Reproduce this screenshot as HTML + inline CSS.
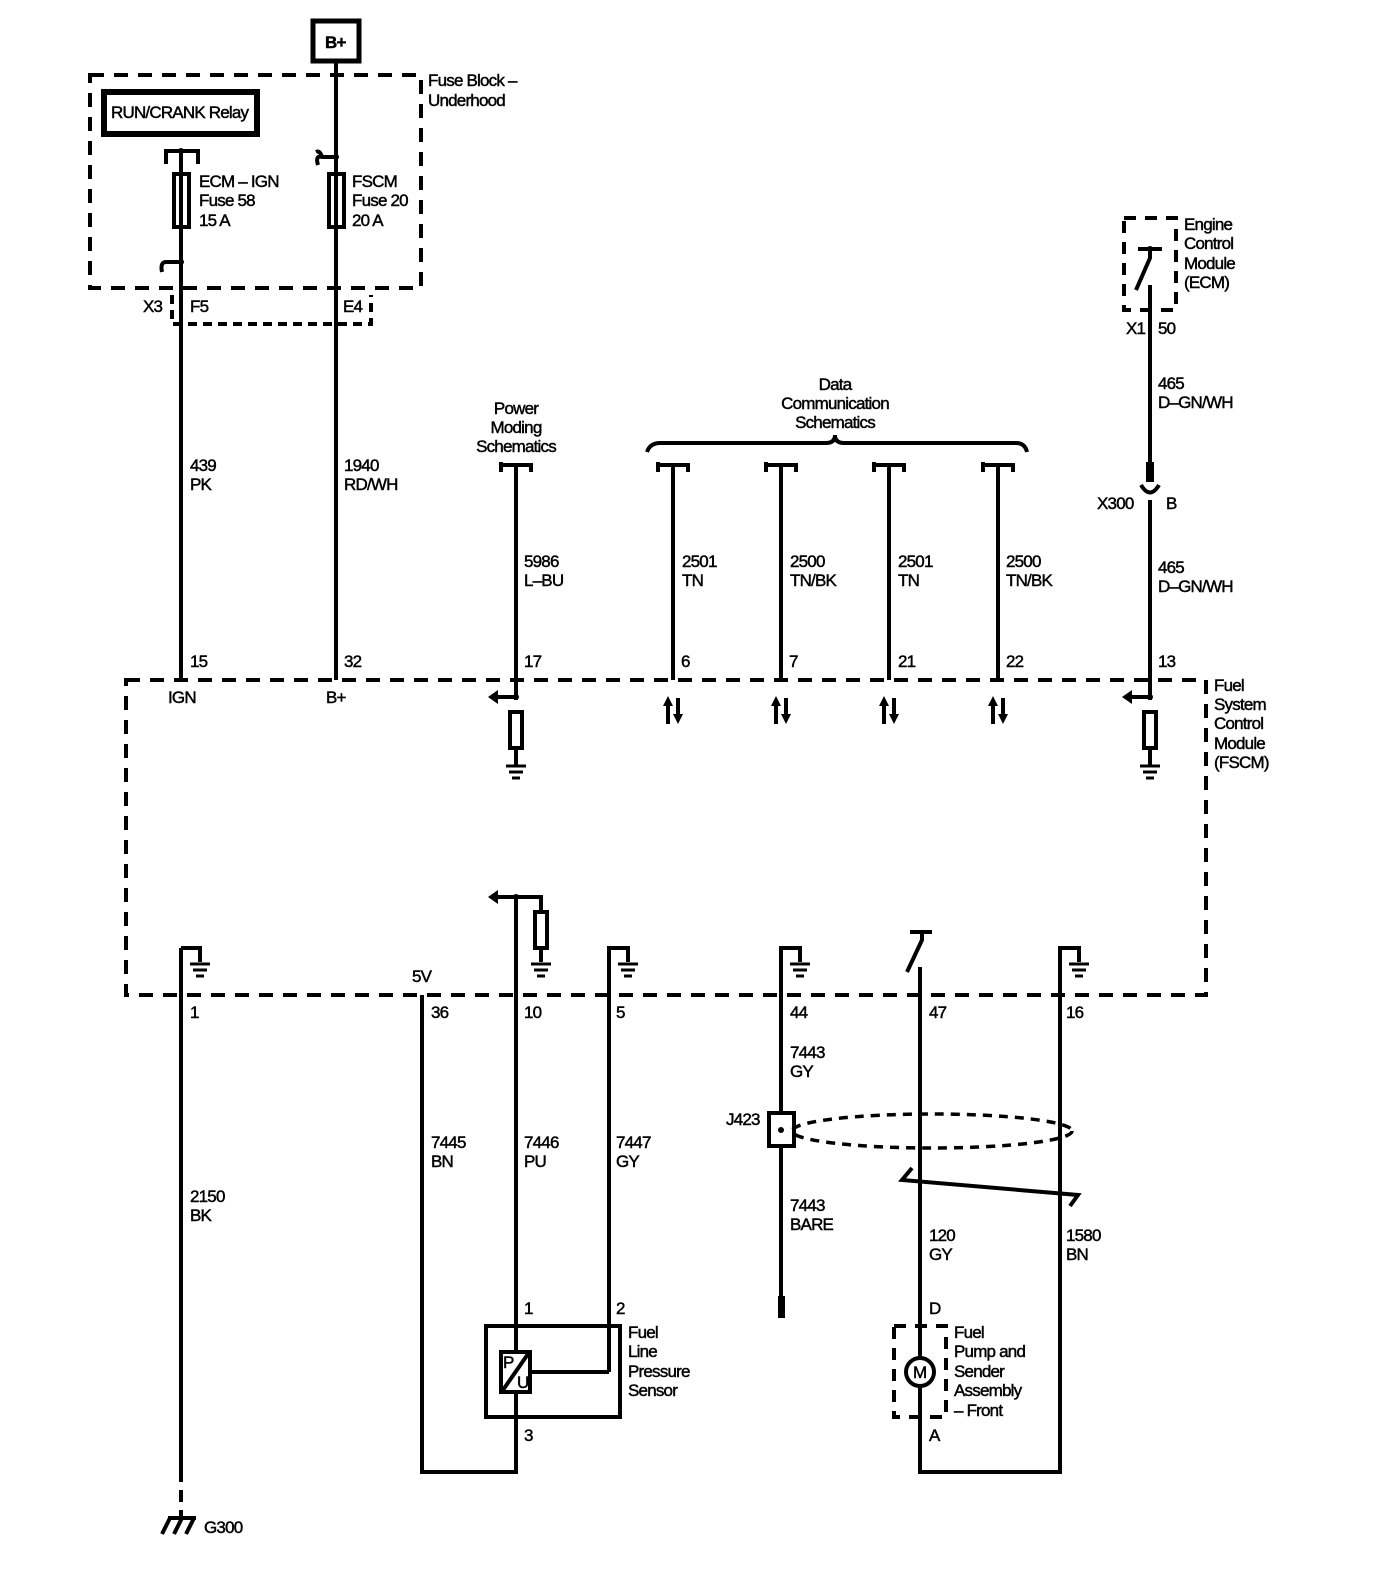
<!DOCTYPE html>
<html><head><style>
html,body{margin:0;padding:0;background:#fff;overflow:hidden;width:1392px;height:1584px;}
svg{display:block;}
svg text{font-family:"Liberation Sans",sans-serif;font-size:17px;fill:#000;stroke:#000;stroke-width:0.45px;letter-spacing:-0.8px;}
</style></head><body>
<svg width="1392" height="1584" viewBox="0 0 1392 1584" xmlns="http://www.w3.org/2000/svg">
<g fill="none" stroke="#000" stroke-width="4">
<rect x="313" y="21" width="46" height="40" stroke-width="5"/>
<rect x="90" y="75" width="331" height="213" stroke-dasharray="14,10"/>
<rect x="104" y="92" width="153" height="42" stroke-width="6"/>
<path d="M172 295 V324 H371 V295" stroke-dasharray="9,6"/>
<path d="M181 152 V680"/>
<path d="M181 948 V1470"/>
<path d="M181 1470 V1520" stroke-dasharray="12,8"/>
<path d="M336 63 V680"/>
<path d="M166 164 V151 H198 V164"/>
<rect x="174" y="174" width="15" height="53"/>
<rect x="329" y="174" width="15" height="53"/>
<path d="M181 262 H166 Q160 262 162 272"/>
<path d="M336 157 H322 Q315 155 318 165"/>
<path d="M316 152 Q320 150 322 157"/>
<rect x="126" y="680" width="1080" height="315" stroke-dasharray="14,10"/>
<path d="M501 472 V462 M501 465 H531 V472 M516 465 V700"/>
<path d="M647 452 Q650 443 660 443 H826 Q835 443 835 435 Q835 443 844 443 H1016 Q1025 443 1027 452"/>
<path d="M658 472 V462 M658 465 H688 V472 M673 465 V680"/>
<path d="M766 472 V462 M766 465 H796 V472 M781 465 V680"/>
<path d="M874 472 V462 M874 465 H904 V472 M889 465 V680"/>
<path d="M983 472 V462 M983 465 H1013 V472 M998 465 V680"/>
<rect x="1124" y="218" width="52" height="92" stroke-dasharray="12,9"/>
<path d="M1150 285 V465 M1150 500 V700"/>
<path d="M1138 249 H1162 M1150 249 V258 L1136 290"/>
<path d="M1141 485 Q1150 500 1159 485"/>
<path d="M516 697 H496 M1150 697 H1130"/>
<rect x="510" y="712" width="12" height="36"/>
<rect x="1144" y="712" width="12" height="36"/>
<path d="M516 748 V765 M1150 748 V765"/>
<path d="M668 724 V700 M678 698 V720"/>
<path d="M776 724 V700 M786 698 V720"/>
<path d="M884 724 V700 M894 698 V720"/>
<path d="M993 724 V700 M1003 698 V720"/>
<path d="M181 948 H200 V962"/>
<path d="M516 897 V1472 H422 V995"/>
<path d="M516 897 H496 M516 897 H541 V912"/>
<rect x="535" y="912" width="12" height="36"/>
<path d="M541 948 V962"/>
<path d="M609 1372 V948 H628 V962"/>
<path d="M609 1372 H530"/>
<path d="M781 1316 V948 H800 V962"/>
<path d="M920 967 V1472 H1060 V948 H1079 V962"/>
<path d="M907 972 L922 940 V932 M910 932 H932"/>
<rect x="486" y="1326" width="134" height="91"/>
<rect x="501" y="1352" width="29" height="40" fill="#fff"/>
<path d="M503 1390 L528 1354"/>
<rect x="894" y="1326" width="52" height="91" stroke-dasharray="12,9"/>
<circle cx="920" cy="1372" r="14" fill="#fff"/>
<rect x="769" y="1113" width="25" height="33" fill="#fff"/>
<ellipse cx="932" cy="1131" rx="140" ry="17" stroke-dasharray="9,7" stroke-width="3.5"/>
<path d="M912 1168 L902 1180 L1078 1195 L1070 1206"/>
<path d="M162 1534 L170 1518 M174 1534 L182 1518 M186 1534 L194 1518 M168 1518 H196"/>
</g>
<g fill="#000">
<rect x="778" y="1296" width="7" height="22"/>
<rect x="1146" y="462" width="8" height="20"/>
<circle cx="181" cy="151" r="3"/><circle cx="181" cy="262" r="3"/><circle cx="336" cy="157" r="3"/>
<circle cx="516" cy="697" r="3"/><circle cx="1150" cy="697" r="3"/><circle cx="516" cy="897" r="3"/><circle cx="1150" cy="249" r="3"/>
<circle cx="781" cy="1130" r="3"/>
<polygon points="488,697 498,690 498,704"/>
<polygon points="1122,697 1132,690 1132,704"/>
<polygon points="488,897 498,890 498,904"/>
<polygon points="668,696 663,706 673,706"/><polygon points="678,724 673,714 683,714"/>
<polygon points="776,696 771,706 781,706"/><polygon points="786,724 781,714 791,714"/>
<polygon points="884,696 879,706 889,706"/><polygon points="894,724 889,714 899,714"/>
<polygon points="993,696 988,706 998,706"/><polygon points="1003,724 998,714 1008,714"/>
</g>
<g stroke="#000" stroke-width="3">
<path d="M506 766 H526 M509 772 H523 M512 778 H520"/>
<path d="M1140 766 H1160 M1143 772 H1157 M1146 778 H1154"/>
<path d="M190 964 H210 M193 970 H207 M196 976 H204"/>
<path d="M531 964 H551 M534 970 H548 M537 976 H545"/>
<path d="M618 964 H638 M621 970 H635 M624 976 H632"/>
<path d="M790 964 H810 M793 970 H807 M796 976 H804"/>
<path d="M1069 964 H1089 M1072 970 H1086 M1075 976 H1083"/>
</g>
<text x="325" y="48" font-weight="bold">B+</text>
<text x="111" y="118">RUN/CRANK Relay</text>
<text x="428" y="86">Fuse Block –</text>
<text x="428" y="106">Underhood</text>
<text x="199" y="187">ECM – IGN</text><text x="199" y="206">Fuse 58</text><text x="199" y="226">15 A</text>
<text x="352" y="187">FSCM</text><text x="352" y="206">Fuse 20</text><text x="352" y="226">20 A</text>
<text x="143" y="312">X3</text><text x="190" y="312">F5</text><text x="343" y="312">E4</text>
<text x="190" y="471">439</text><text x="190" y="490">PK</text>
<text x="344" y="471">1940</text><text x="344" y="490">RD/WH</text>
<g text-anchor="middle"><text x="516" y="414">Power</text><text x="516" y="433">Moding</text><text x="516" y="452">Schematics</text>
<text x="835" y="390">Data</text><text x="835" y="409">Communication</text><text x="835" y="428">Schematics</text></g>
<text x="1184" y="230">Engine</text><text x="1184" y="249">Control</text><text x="1184" y="269">Module</text><text x="1184" y="288">(ECM)</text>
<text x="1126" y="334">X1</text><text x="1158" y="334">50</text>
<text x="1158" y="389">465</text><text x="1158" y="408">D–GN/WH</text>
<text x="1097" y="509">X300</text><text x="1166" y="509">B</text>
<text x="1158" y="573">465</text><text x="1158" y="592">D–GN/WH</text>
<text x="524" y="567">5986</text><text x="524" y="586">L–BU</text>
<text x="682" y="567">2501</text><text x="682" y="586">TN</text>
<text x="790" y="567">2500</text><text x="790" y="586">TN/BK</text>
<text x="898" y="567">2501</text><text x="898" y="586">TN</text>
<text x="1006" y="567">2500</text><text x="1006" y="586">TN/BK</text>
<text x="190" y="667">15</text><text x="344" y="667">32</text><text x="524" y="667">17</text><text x="681" y="667">6</text>
<text x="789" y="667">7</text><text x="898" y="667">21</text><text x="1006" y="667">22</text><text x="1158" y="667">13</text>
<text x="168" y="703">IGN</text><text x="326" y="703">B+</text>
<text x="1214" y="691">Fuel</text><text x="1214" y="710">System</text><text x="1214" y="729">Control</text><text x="1214" y="749">Module</text><text x="1214" y="768">(FSCM)</text>
<text x="412" y="982">5V</text>
<text x="190" y="1018">1</text><text x="431" y="1018">36</text><text x="524" y="1018">10</text><text x="616" y="1018">5</text>
<text x="790" y="1018">44</text><text x="929" y="1018">47</text><text x="1066" y="1018">16</text>
<text x="790" y="1058">7443</text><text x="790" y="1077">GY</text>
<text x="726" y="1125">J423</text>
<text x="431" y="1148">7445</text><text x="431" y="1167">BN</text>
<text x="524" y="1148">7446</text><text x="524" y="1167">PU</text>
<text x="616" y="1148">7447</text><text x="616" y="1167">GY</text>
<text x="190" y="1202">2150</text><text x="190" y="1221">BK</text>
<text x="790" y="1211">7443</text><text x="790" y="1230">BARE</text>
<text x="929" y="1241">120</text><text x="929" y="1260">GY</text>
<text x="1066" y="1241">1580</text><text x="1066" y="1260">BN</text>
<text x="524" y="1314">1</text><text x="616" y="1314">2</text><text x="929" y="1314">D</text>
<text x="628" y="1338">Fuel</text><text x="628" y="1357">Line</text><text x="628" y="1377">Pressure</text><text x="628" y="1396">Sensor</text>
<text x="954" y="1338">Fuel</text><text x="954" y="1357">Pump and</text><text x="954" y="1377">Sender</text><text x="954" y="1396">Assembly</text><text x="954" y="1416">– Front</text>
<text x="503" y="1368" font-size="15">P</text><text x="517" y="1388" font-size="15">U</text>
<text x="913" y="1378" font-size="15">M</text>
<text x="524" y="1441">3</text><text x="929" y="1441">A</text>
<text x="204" y="1533">G300</text>
</svg>
</body></html>
